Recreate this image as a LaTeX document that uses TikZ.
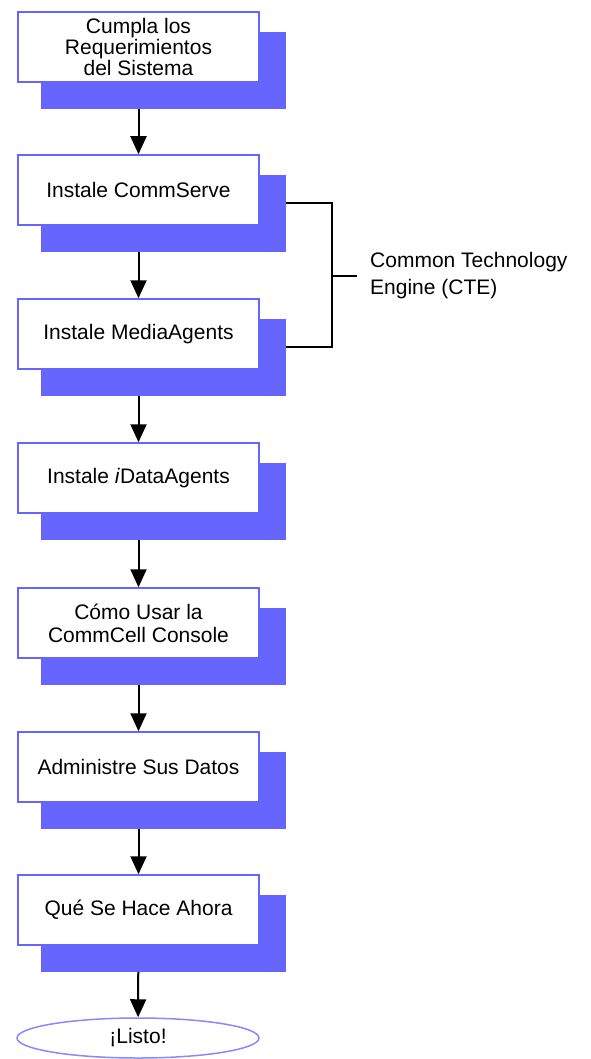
\documentclass[tikz,border=0pt]{standalone}
\usepackage{fontspec}
\setmainfont{Liberation Sans}
\usetikzlibrary{shapes}
\usetikzlibrary{arrows.meta}
\usetikzlibrary{backgrounds}

\definecolor{boxblue}{RGB}{102,102,255}
\definecolor{ovalblue}{RGB}{136,136,255}

\begin{document}
\begin{tikzpicture}[x=1pt, y=-1pt]

\tikzstyle{stage}=[rectangle, minimum width = 241pt, minimum height = 70pt, inner sep = 0pt, line width = 1.5pt, draw = boxblue, fill = white, align = center, font = \fontsize{21}{21}\selectfont]
\tikzstyle{finish}=[ellipse, minimum width = 242pt, minimum height = 40pt, inner sep = 0pt, line width = 1.5pt, draw = ovalblue, font = \fontsize{21}{21}\selectfont]
\tikzstyle{backdrop}=[fill = boxblue]
\tikzstyle{connect}=[-{Triangle[width=16pt, length=18pt]}, line width = 2pt, shorten <= 26pt]
\tikzstyle{bracket}=[line width = 2pt]

\useasboundingbox (0,0) rectangle (590,1059);


\node[stage] (req) at (138.5,47)  {Cumpla los\\Requerimientos\\del Sistema};
\node[stage] (cs) at (138.5,190)  {Instale CommServe};
\node[stage] (ma) at (138.5,334)  {Instale MediaAgents};
\node[stage] (ida) at (138.5,478)  {Instale \textit{i}DataAgents};
\node[stage] (con) at (138.5,623)  {C\'omo Usar la\\[2pt]CommCell Console};
\node[stage] (adm) at (138.5,767)  {Administre Sus Datos};
\node[stage] (que) at (138.5,910)  {Qu\'e Se Hace Ahora};
\node[finish] (listo) at (138,1038)  {!`Listo!};


\begin{scope}[on background layer]
\foreach \s in {req,cs,ma,ida,con,adm,que}
  \fill[backdrop] ([xshift=24pt,yshift=-21pt]\s.north west) rectangle ([xshift=26pt,yshift=-26pt]\s.south east);
\end{scope}



\path (req) [connect]  edge (cs);
\path (cs) [connect]  edge (ma);
\path (ma) [connect]  edge (ida);
\path (ida) [connect]  edge (con);
\path (con) [connect]  edge (adm);
\path (adm) [connect]  edge (que);
\path (que) [connect]  edge (listo);



\node[anchor=west, inner xsep=13pt, align=left, font=\fontsize{21}{27}\selectfont] (cte) at (357,275.5)  {Common Technology\\Engine (CTE)};
\coordinate (ctejoin) at (332,275.5);

\draw[bracket] ([xshift=26pt,yshift=-13pt]cs.east) -| (ctejoin) |- ([xshift=26pt,yshift=-13pt]ma.east);
\draw[bracket] (ctejoin) -- (cte.west);


\end{tikzpicture}
\end{document}
